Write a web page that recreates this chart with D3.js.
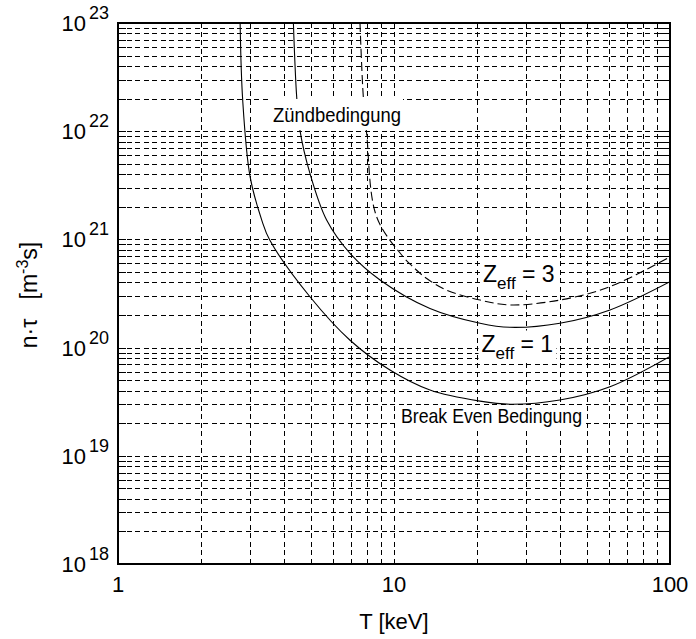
<!DOCTYPE html>
<html>
<head>
<meta charset="utf-8">
<script src="https://cdn.jsdelivr.net/npm/d3@7"></script>
<style>
  body { margin: 0; background: #fff; }
  svg { display: block; font-family: "Liberation Sans", Arial, Helvetica, sans-serif; }
</style>
</head>
<body>
<svg id="chart" width="696" height="639"></svg>
<script>
// Axis ticks
const tempTicks = [1, 10, 100];
const tempTickLabels = ["1", "10", "100"];
const ntauExponents = [18, 19, 20, 21, 22, 23];

// Break-even condition (Z_eff = 1)
const breakEvenT  = [2.77, 2.83, 3.01, 3.32, 3.55, 4.96, 6.93, 9.67, 13.5, 20.5, 26.3, 39.9, 60.6, 100];
const breakEvenNT = [1e23, 1.94e22, 3.8e21, 1.5e21, 9.8e20, 2.95e20, 1.17e20, 6.2e19, 4.05e19, 3.2e19, 3.0e19, 3.28e19, 4.35e19, 8.3e19];

// Ignition condition, Z_eff = 1
const ignitionZ1T  = [4.32, 4.44, 4.56, 4.96, 5.70, 6.93, 8.9, 13.5, 20.5, 26.3, 39.9, 60.6, 100];
const ignitionZ1NT = [1e23, 2.08e22, 1.03e22, 4.07e21, 1.51e21, 7.43e20, 4.22e20, 2.3e20, 1.68e20, 1.54e20, 1.68e20, 2.23e20, 4.07e20];

// Ignition condition, Z_eff = 3
const ignitionZ3T  = [7.53, 7.74, 7.96, 8.65, 10.8, 11.7, 13.1, 15.5, 20.5, 26.3, 39.9, 60.6, 100];
const ignitionZ3NT = [1e23, 2.08e22, 9.55e21, 1.62e21, 6.9e20, 5.6e20, 4.37e20, 3.4e20, 2.75e20, 2.48e20, 2.75e20, 3.66e20, 6.9e20];

const svg = d3.select("#chart");
const plotLeft = 118, plotRight = 670, plotTop = 23, plotBottom = 564;

const x = d3.scaleLog().domain([1, 100]).range([plotLeft, plotRight]);
const y = d3.scaleLog().domain([1e18, 1e23]).range([plotBottom, plotTop]);

const xGrid = x.ticks();
const yGrid = y.ticks();

// Dashed grid at every decade subdivision
const grid = svg.append("g")
  .attr("stroke", "#000")
  .attr("stroke-width", 1)
  .attr("stroke-dasharray", "5,3.5")
  .attr("shape-rendering", "crispEdges");

grid.selectAll("line.gx").data(xGrid.filter(v => v > 1 && v < 100)).join("line")
  .attr("class", "gx")
  .attr("x1", d => Math.round(x(d)) + 0.5).attr("x2", d => Math.round(x(d)) + 0.5)
  .attr("y1", plotTop).attr("y2", plotBottom);

grid.selectAll("line.gy").data(yGrid.filter(v => v > 1e18 && v < 1e23)).join("line")
  .attr("class", "gy")
  .attr("x1", plotLeft).attr("x2", plotRight)
  .attr("y1", d => Math.round(y(d)) + 0.5).attr("y2", d => Math.round(y(d)) + 0.5);

// Inward tick marks
const ticks = svg.append("g").attr("stroke", "#000").attr("stroke-width", 1)
  .attr("shape-rendering", "crispEdges");
yGrid.forEach(v => {
  const py = Math.round(y(v)) + 0.5;
  ticks.append("line").attr("x1", plotLeft).attr("x2", plotLeft + 8).attr("y1", py).attr("y2", py);
  ticks.append("line").attr("x1", plotRight - 12).attr("x2", plotRight).attr("y1", py).attr("y2", py);
});
xGrid.forEach(v => {
  const px = Math.round(x(v)) + 0.5;
  ticks.append("line").attr("x1", px).attr("x2", px).attr("y1", plotBottom - 5).attr("y2", plotBottom);
  ticks.append("line").attr("x1", px).attr("x2", px).attr("y1", plotTop).attr("y2", plotTop + 5);
});

// Curves
svg.append("clipPath").attr("id", "plot-clip")
  .append("rect").attr("x", plotLeft).attr("y", plotTop)
  .attr("width", plotRight - plotLeft).attr("height", plotBottom - plotTop);

const line = d3.line()
  .x(d => x(d[0]))
  .y(d => y(d[1]))
  .curve(d3.curveCatmullRom.alpha(0.5));

const curves = [
  { t: breakEvenT, n: breakEvenNT, dash: null },
  { t: ignitionZ1T, n: ignitionZ1NT, dash: null },
  { t: ignitionZ3T, n: ignitionZ3NT, dash: "9,4" }
];

const curveLayer = svg.append("g").attr("clip-path", "url(#plot-clip)");
curves.forEach(c => {
  curveLayer.append("path")
    .datum(d3.zip(c.t, c.n))
    .attr("d", line)
    .attr("fill", "none")
    .attr("stroke", "#000")
    .attr("stroke-width", 1.1)
    .attr("stroke-dasharray", c.dash);
});

// Curve annotations on white boxes
function labelBox(x0, y0, w, h) {
  svg.append("rect").attr("x", x0).attr("y", y0).attr("width", w).attr("height", h).attr("fill", "#fff");
}

labelBox(270, 99, 133, 31);
svg.append("text")
  .attr("x", 273).attr("y", 122)
  .attr("font-size", 21)
  .attr("textLength", 128).attr("lengthAdjust", "spacingAndGlyphs")
  .text("Zündbedingung");

labelBox(398, 405, 186, 25);
svg.append("text")
  .attr("x", 401).attr("y", 422.5)
  .attr("font-size", 21)
  .attr("textLength", 181).attr("lengthAdjust", "spacingAndGlyphs")
  .text("Break Even Bedingung");

function zeffLabel(x0, base, val) {
  labelBox(x0 - 3, base - 21, 78, 30);
  const t = svg.append("text").attr("x", x0).attr("y", base).attr("font-size", 23);
  t.append("tspan").text("Z");
  t.append("tspan").attr("dy", 7).attr("font-size", 17).text("eff");
  t.append("tspan").attr("dy", -7).text(" = " + val);
}
zeffLabel(483, 281.5, 3);
zeffLabel(481.5, 351.5, 1);

// Frame
svg.append("rect")
  .attr("x", plotLeft).attr("y", plotTop)
  .attr("width", plotRight - plotLeft).attr("height", plotBottom - plotTop)
  .attr("fill", "none").attr("stroke", "#000").attr("stroke-width", 2);

// Y tick labels: powers of ten
ntauExponents.forEach(e => {
  const t = svg.append("text")
    .attr("x", 109).attr("y", y(Math.pow(10, e)) + 8)
    .attr("text-anchor", "end")
    .attr("font-size", 22);
  t.append("tspan").text("10");
  t.append("tspan").attr("dx", 3).attr("dy", -12).attr("font-size", 18).text(e);
});

// X tick labels
tempTicks.forEach((v, i) => {
  svg.append("text")
    .attr("x", x(v)).attr("y", 592)
    .attr("text-anchor", "middle")
    .attr("font-size", 22)
    .text(tempTickLabels[i]);
});

// Axis titles
svg.append("text")
  .attr("x", 394).attr("y", 629)
  .attr("text-anchor", "middle")
  .attr("font-size", 22)
  .text("T [keV]");

const yt = svg.append("text")
  .attr("transform", "translate(37,295) rotate(-90)")
  .attr("text-anchor", "middle")
  .attr("font-size", 23);
yt.append("tspan").text("n·τ\u00a0\u00a0\u00a0[m");
yt.append("tspan").attr("dy", -9).attr("font-size", 16).text("-3");
yt.append("tspan").attr("dy", 9).text("s]");
</script>
</body>
</html>
